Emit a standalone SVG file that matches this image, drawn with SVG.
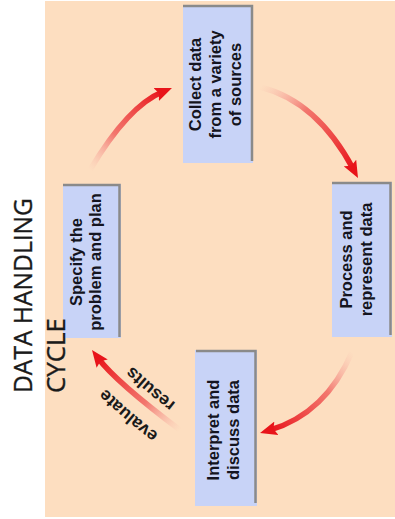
<svg xmlns="http://www.w3.org/2000/svg" width="395" height="519" viewBox="0 0 395 519">
  <style>
    .box { fill: #c8d3f7; }
    .edge { fill: none; stroke: #8a8a8a; stroke-width: 2.5; }
    .lbl { font-family: "Liberation Sans", Arial, sans-serif; font-weight: bold; font-size: 16.5px; fill: #141420; text-anchor: middle; }
    .title { font-family: "Open Sans", "Liberation Sans", sans-serif; font-size: 26px; fill: #1a1a1a; stroke: #1a1a1a; stroke-width: 0.35; }
    .arrow { fill: none; stroke-width: 5.5; stroke-linecap: butt; }
    .alabel { font-family: "Liberation Sans", Arial, sans-serif; font-weight: bold; font-size: 17.5px; fill: #1a1a1a; }
  </style>
  <defs>
    <marker id="head" markerUnits="userSpaceOnUse" markerWidth="17" markerHeight="14" viewBox="0 0 17 14" refX="7" refY="7" orient="auto">
      <path d="M0,0 L17,7 L0,14 L3,7 Z" fill="#e8141a"/>
    </marker>
    <linearGradient id="g1" gradientUnits="userSpaceOnUse" x1="90" y1="170" x2="163" y2="92">
      <stop offset="0" stop-color="#f5a0a0" stop-opacity="0"/>
      <stop offset="0.4" stop-color="#ee4a4a" stop-opacity="0.7"/>
      <stop offset="1" stop-color="#e8141a"/>
    </linearGradient>
    <linearGradient id="g2" gradientUnits="userSpaceOnUse" x1="260" y1="87" x2="353" y2="169">
      <stop offset="0" stop-color="#f5a0a0" stop-opacity="0"/>
      <stop offset="0.4" stop-color="#ee4a4a" stop-opacity="0.7"/>
      <stop offset="1" stop-color="#e8141a"/>
    </linearGradient>
    <linearGradient id="g3" gradientUnits="userSpaceOnUse" x1="352" y1="352" x2="270" y2="430">
      <stop offset="0" stop-color="#f5a0a0" stop-opacity="0"/>
      <stop offset="0.4" stop-color="#ee4a4a" stop-opacity="0.7"/>
      <stop offset="1" stop-color="#e8141a"/>
    </linearGradient>
    <linearGradient id="g4" gradientUnits="userSpaceOnUse" x1="180" y1="430" x2="98" y2="358">
      <stop offset="0" stop-color="#f5a0a0" stop-opacity="0"/>
      <stop offset="0.4" stop-color="#ee4a4a" stop-opacity="0.7"/>
      <stop offset="1" stop-color="#e8141a"/>
    </linearGradient>
    <path id="pResults" d="M191.4,414.8 Q129.4,368.6 107.2,338.6"/>
    <path id="pEvaluate" d="M170.4,442.8 Q104.7,393.3 79.2,359.6"/>
  </defs>

  <rect x="0" y="0" width="395" height="519" fill="#ffffff"/>
  <rect x="45" y="1" width="350" height="516" fill="#fddec0"/>

  <g id="connectors">
    <path class="arrow" stroke="url(#g1)" d="M90,170 Q128,106 162.7,91.8" marker-end="url(#head)"/>
    <path class="arrow" stroke="url(#g2)" d="M260,87 Q317,101 353.3,169.2" marker-end="url(#head)"/>
    <path class="arrow" stroke="url(#g3)" d="M352,352 Q325.6,413.7 269.6,430.2" marker-end="url(#head)"/>
    <path class="arrow" stroke="url(#g4)" d="M180,430 Q116,382 98,358" marker-end="url(#head)"/>
    <text class="alabel" text-anchor="middle"><textPath href="#pResults" startOffset="42%">results</textPath></text>
    <text class="alabel" text-anchor="middle"><textPath href="#pEvaluate" startOffset="40%">evaluate</textPath></text>
  </g>

  <g id="collect">
    <rect class="box" x="183" y="6" width="70" height="157"/>
    <polyline class="edge" points="183,6 252,6 252,161"/>
    <g transform="translate(0,84.5) rotate(-90)">
      <text class="lbl" x="0" y="200.5">Collect data</text>
      <text class="lbl" x="0" y="220.5">from a variety</text>
      <text class="lbl" x="0" y="240.5">of sources</text>
    </g>
  </g>

  <g id="process">
    <rect class="box" x="332" y="182" width="60" height="155"/>
    <polyline class="edge" points="332,183 390.5,183 390.5,335"/>
    <g transform="translate(0,259.5) rotate(-90)">
      <text class="lbl" x="0" y="352">Process and</text>
      <text class="lbl" x="0" y="372">represent data</text>
    </g>
  </g>

  <g id="interpret">
    <rect class="box" x="195" y="350" width="62" height="156"/>
    <polyline class="edge" points="196,351 255.5,351 255.5,503"/>
    <g transform="translate(0,430) rotate(-90)">
      <text class="lbl" x="0" y="219">Interpret and</text>
      <text class="lbl" x="0" y="239">discuss data</text>
    </g>
  </g>

  <g id="specify">
    <rect class="box" x="63" y="184" width="58" height="154"/>
    <polyline class="edge" points="63,185 119.5,185 119.5,337"/>
    <g transform="translate(0,262) rotate(-90)">
      <text class="lbl" x="0" y="81.5">Specify the</text>
      <text class="lbl" x="0" y="101">problem and plan</text>
    </g>
  </g>

  <g id="title">
    <text class="title" transform="translate(32,393) rotate(-90)" textLength="195" lengthAdjust="spacingAndGlyphs">DATA HANDLING</text>
    <text class="title" transform="translate(65,393) rotate(-90)" textLength="75" lengthAdjust="spacingAndGlyphs">CYCLE</text>
  </g>
</svg>
